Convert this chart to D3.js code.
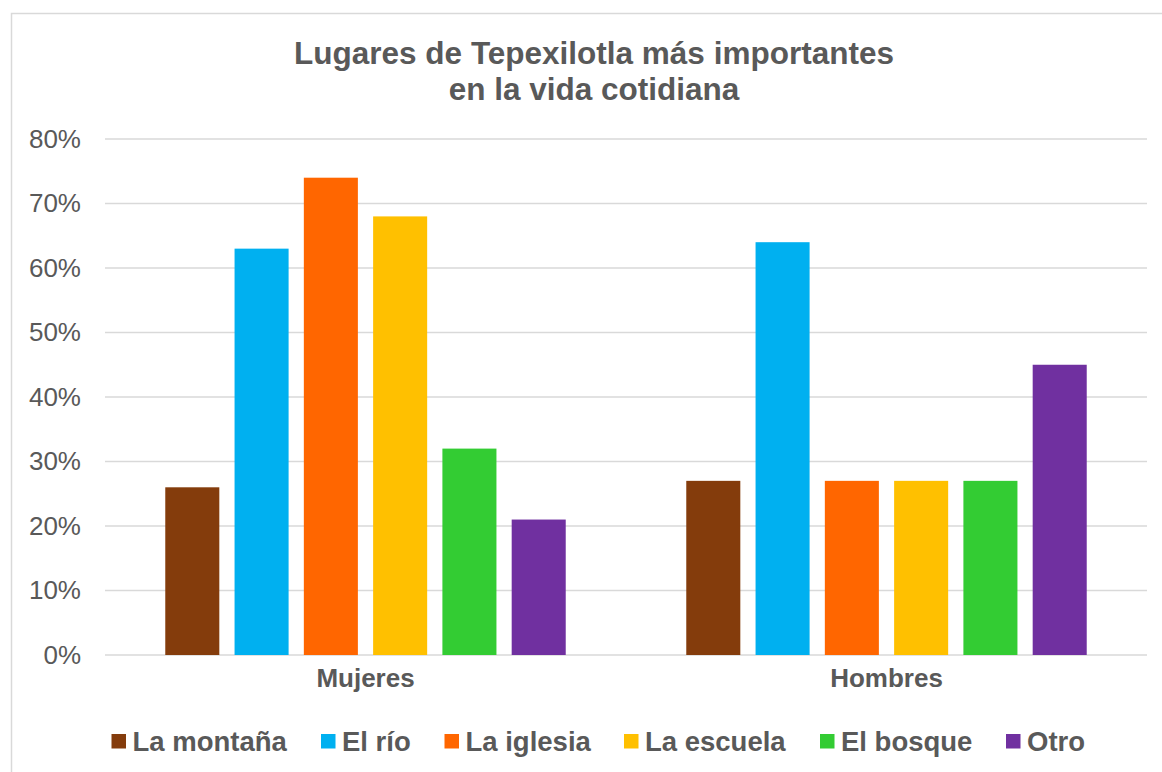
<!DOCTYPE html>
<html>
<head>
<meta charset="utf-8">
<script src="https://cdn.jsdelivr.net/npm/d3@7"></script>
<style>
  body { margin: 0; background: #fff; }
  text { font-family: "Liberation Sans", Arial, sans-serif; fill: #595959; }
</style>
</head>
<body>
<script>
// chart data
var categories = ["Mujeres", "Hombres"];
var places = ["La montaña", "El río", "La iglesia", "La escuela", "El bosque", "Otro"];
var colors = ["#843c0c", "#00b0f0", "#ff6600", "#ffc000", "#33cc33", "#7030a0"];
var mujeres = [26, 63, 74, 68, 32, 21];
var hombres = [27, 64, 27, 27, 27, 45];
var yTicks = [0, 10, 20, 30, 40, 50, 60, 70, 80];
var titleLines = ["Lugares de Tepexilotla más importantes", "en la vida cotidiana"];

var W = 1162, H = 772;
var margin = {top: 139, right: 15, bottom: 117, left: 105},
    width = W - margin.left - margin.right,
    height = H - margin.top - margin.bottom;

var svg = d3.select("body").append("svg")
    .attr("width", W)
    .attr("height", H);

// outer chart border (cropped on right/bottom like the picture)
svg.append("rect")
    .attr("x", 11.5).attr("y", 13.5)
    .attr("width", 1170).attr("height", 800)
    .style("fill", "none")
    .style("stroke", "#d9d9d9")
    .style("stroke-width", 1.5);

// title
svg.selectAll(".title")
    .data(titleLines)
  .enter().append("text")
    .attr("class", "title")
    .attr("x", 594)
    .attr("y", function(d, i) { return 64 + i * 36; })
    .style("text-anchor", "middle")
    .style("font-weight", "bold")
    .style("font-size", "31.5px")
    .text(function(d) { return d; });

var g = svg.append("g")
    .attr("transform", "translate(" + margin.left + "," + margin.top + ")");

var y = d3.scaleLinear().domain([0, 80]).range([height, 0]);

var x0 = d3.scaleBand().domain(categories).range([0, width]).padding(0);
var x1 = d3.scaleBand().domain(places).range([0, x0.bandwidth()])
    .paddingInner(0.22).paddingOuter(0.87);

// gridlines
g.selectAll(".grid")
    .data(yTicks)
  .enter().append("line")
    .attr("class", "grid")
    .attr("x1", 0).attr("x2", width)
    .attr("y1", function(d) { return y(d); })
    .attr("y2", function(d) { return y(d); })
    .style("stroke", "#d9d9d9")
    .style("stroke-width", 1.5);

// y axis labels
var yAxis = d3.axisLeft(y).tickValues(yTicks)
    .tickFormat(function(d) { return d + "%"; })
    .tickSize(0).tickPadding(24);
var ya = g.append("g").call(yAxis);
ya.select(".domain").remove();
ya.selectAll("text")
    .style("font-size", "26px")
    .style("fill", "#595959")
    .style("font-family", "Liberation Sans, Arial, sans-serif");

// x axis labels
var xAxis = d3.axisBottom(x0).tickSize(0).tickPadding(14);
var xa = g.append("g").attr("transform", "translate(0," + height + ")").call(xAxis);
xa.select(".domain").remove();
xa.selectAll("text")
    .style("font-size", "26px")
    .style("font-weight", "bold")
    .style("fill", "#595959")
    .style("font-family", "Liberation Sans, Arial, sans-serif");

var series = [mujeres, hombres];
var groups = g.selectAll(".group")
    .data(categories)
  .enter().append("g")
    .attr("class", "group")
    .attr("transform", function(d) { return "translate(" + x0(d) + ",0)"; });

groups.selectAll("rect")
    .data(function(d, i) {
      return places.map(function(p, j) { return {place: p, value: series[i][j], c: colors[j]}; });
    })
  .enter().append("rect")
    .attr("x", function(d) { return x1(d.place); })
    .attr("width", x1.bandwidth())
    .attr("y", function(d) { return y(d.value); })
    .attr("height", function(d) { return height - y(d.value); })
    .style("fill", function(d) { return d.c; });

// legend
var legendX = [111.5, 321, 444.5, 624, 820, 1006];
var legend = svg.selectAll(".legend")
    .data(places)
  .enter().append("g")
    .attr("class", "legend")
    .attr("transform", function(d, i) { return "translate(" + legendX[i] + ",734)"; });
legend.append("rect")
    .attr("width", 14.5).attr("height", 14.5)
    .style("fill", function(d, i) { return colors[i]; });
legend.append("text")
    .attr("x", 21)
    .attr("y", 17)
    .style("font-size", "27.5px")
    .style("font-weight", "bold")
    .text(function(d) { return d; });
</script>
</body>
</html>
